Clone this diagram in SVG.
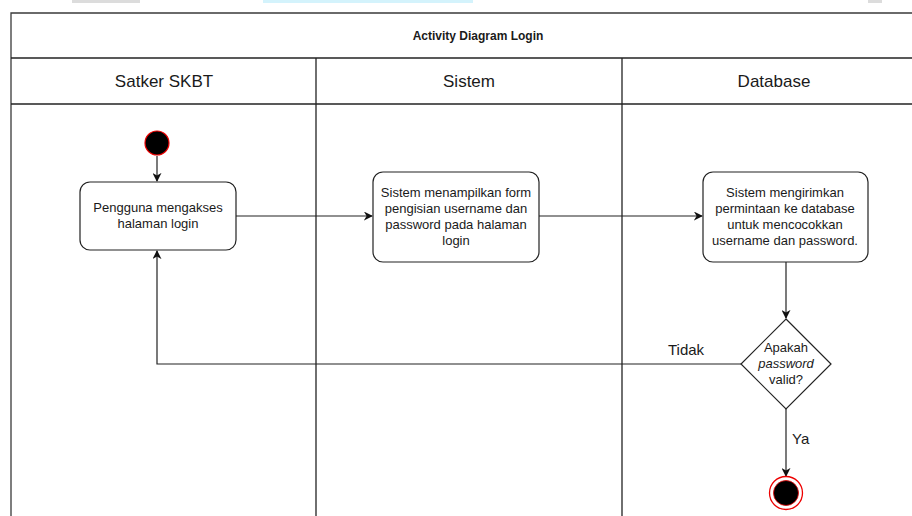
<svg xmlns="http://www.w3.org/2000/svg" width="912" height="516" viewBox="0 0 912 516">
<style>
  text { font-family: "Liberation Sans", Arial, sans-serif; fill: #1a1a1a; }
  .pool { fill: none; stroke: #3a3a3a; stroke-width: 1.3; }
  .lane { stroke: #222; stroke-width: 1.3; fill: none; }
  .hdr { font-size: 17px; text-anchor: middle; }
  .title { font-size: 12px; font-weight: bold; text-anchor: middle; }
  .act { fill: #fff; stroke: #222; stroke-width: 1.2; }
  .t { font-size: 13px; text-anchor: middle; }
  .edge { fill: none; stroke: #222; stroke-width: 1.2; }
  .lbl { font-size: 15px; }
</style>
<defs>
  <marker id="arr" viewBox="0 0 10 10" refX="9" refY="5" markerWidth="9" markerHeight="9" markerUnits="userSpaceOnUse" orient="auto">
    <path d="M0,0 L10,5 L0,10 L3,5 Z" fill="#111"/>
  </marker>
</defs>
<rect x="0" y="0" width="912" height="516" fill="#fff"/>
<!-- faint cropped remnants at the top edge -->
<rect x="72" y="0" width="68" height="3" fill="#dcdcdc"/>
<rect x="263" y="0" width="210" height="3" fill="#d4f3fc"/>
<rect x="868" y="0" width="14" height="3" fill="#dcdcdc"/>

<g id="pool">
  <path class="pool" d="M913,13 L11,13 L11,517"/>
  <line class="lane" x1="11" y1="58" x2="913" y2="58"/>
  <line class="lane" x1="11" y1="104" x2="913" y2="104"/>
  <line class="lane" x1="316" y1="58" x2="316" y2="517"/>
  <line class="lane" x1="622" y1="58" x2="622" y2="517"/>
  <text class="title" x="478" y="40">Activity Diagram Login</text>
  <text class="hdr" x="164" y="87">Satker SKBT</text>
  <text class="hdr" x="469" y="87">Sistem</text>
  <text class="hdr" x="774" y="87">Database</text>
</g>

<g id="connectors">
  <line class="edge" x1="157" y1="156" x2="157" y2="181" marker-end="url(#arr)"/>
  <line class="edge" x1="236" y1="216" x2="372" y2="216" marker-end="url(#arr)"/>
  <line class="edge" x1="539" y1="216" x2="702" y2="216" marker-end="url(#arr)"/>
  <line class="edge" x1="786" y1="262" x2="786" y2="318" marker-end="url(#arr)"/>
  <polyline class="edge" points="741,364 157,364 157,251" marker-end="url(#arr)"/>
  <line class="edge" x1="786" y1="409" x2="786" y2="476" marker-end="url(#arr)"/>
  <text class="lbl" x="668" y="355">Tidak</text>
  <text class="lbl" x="792" y="444">Ya</text>
</g>

<g id="start">
  <circle cx="157" cy="143" r="12" fill="#000" stroke="#e00" stroke-width="1.2"/>
</g>

<g id="n1">
  <rect class="act" x="80" y="182" width="156" height="68" rx="10"/>
  <text class="t" x="158" y="212">Pengguna mengakses</text>
  <text class="t" x="158" y="228">halaman login</text>
</g>

<g id="n2">
  <rect class="act" x="373" y="172" width="166" height="90" rx="10"/>
  <text class="t" x="456" y="197">Sistem menampilkan form</text>
  <text class="t" x="456" y="213">pengisian username dan</text>
  <text class="t" x="456" y="229">password pada halaman</text>
  <text class="t" x="456" y="245">login</text>
</g>

<g id="n3">
  <rect class="act" x="703" y="172" width="165" height="90" rx="10"/>
  <text class="t" x="785" y="197">Sistem mengirimkan</text>
  <text class="t" x="785" y="213">permintaan ke database</text>
  <text class="t" x="785" y="229">untuk mencocokkan</text>
  <text class="t" x="785" y="245">username dan password.</text>
</g>

<g id="decision">
  <polygon class="act" points="786,319 831,364 786,409 741,364"/>
  <text class="t" x="786" y="352">Apakah</text>
  <text class="t" x="786" y="368" font-style="italic">password</text>
  <text class="t" x="786" y="384">valid?</text>
</g>

<g id="end">
  <circle cx="786" cy="493" r="16.5" fill="#fff" stroke="#e00" stroke-width="1.3"/>
  <circle cx="786" cy="493" r="12.5" fill="#000" stroke="#e00" stroke-width="0.8"/>
</g>
</svg>
